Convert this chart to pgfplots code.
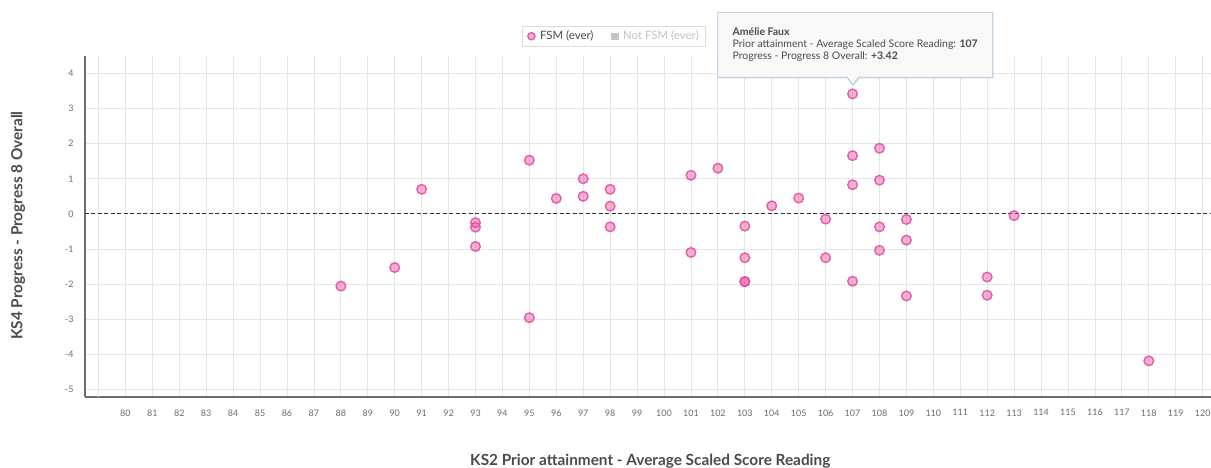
\documentclass[border=0pt]{standalone}
\usepackage{fontspec}
\setmainfont{Lato}
\usepackage{pgfplots}
\pgfplotsset{compat=1.18}
\usetikzlibrary{shapes.callouts,shadows}
\definecolor{pinkS}{HTML}{E4489C}
\definecolor{gridc}{HTML}{E6E6E6}
\definecolor{axc}{HTML}{6E6E6E}
\definecolor{tickc}{HTML}{6A6A6A}
\definecolor{titc}{HTML}{4A4A4A}
\definecolor{legb}{HTML}{DDDDDD}
\definecolor{legoff}{HTML}{C4C4C4}
\definecolor{tipb}{HTML}{A9C6E0}
\definecolor{tipf}{HTML}{F8F8F8}
\begin{document}
\begin{tikzpicture}
\path[use as bounding box] (-85bp,-71bp) rectangle (1126bp,397bp);
\begin{axis}[
  at={(0,0)}, anchor=south west,
  scale only axis, width=1126bp, height=341bp,
  xmin=78.5, xmax=120.31, ymin=-5.22, ymax=4.5,
  axis x line=bottom, axis y line=left,
  axis line style={-, color=axc, line width=1.6bp},
  xtick={80,...,120}, ytick={-5,...,4},
  extra x ticks={79}, extra x tick labels={},
  extra x tick style={grid=major},
  major tick length=0pt,
  grid=major,
  major grid style={color=gridc, line width=0.8bp},
  /pgf/number format/assume math mode=true,
  tick label style={font=\fontsize{9}{10}\selectfont, text=tickc},
  xticklabel style={yshift=-9bp},
  yticklabel style={xshift=-8bp},
  xlabel={KS2 Prior attainment - Average Scaled Score Reading},
  ylabel={KS4 Progress - Progress 8 Overall},
  xlabel style={font=\fontsize{15.4}{17}\selectfont\bfseries, text=titc, at={(axis description cs:0.502,-0.187)}, anchor=center},
  ylabel style={font=\fontsize{15.4}{17}\selectfont\bfseries, text=titc, at={(axis description cs:-0.0595,0.503)}, anchor=center},
  clip=false,
  legend style={at={(rel axis cs:0.470,1.058)}, anchor=center, legend columns=2,
    draw=legb, line width=0.8bp, font=\fontsize{11.5}{13}\selectfont, text=titc,
    inner xsep=5bp, inner ysep=3bp,
    /tikz/every odd column/.append style={column sep=3bp},
    /tikz/every even column/.append style={column sep=16bp}},
]
\addplot[forget plot, dashed, dash pattern=on 4bp off 2.5bp, line width=1.1bp, color=black!80] coordinates {(78.5,0) (120.31,0)};
\addplot[only marks, mark=*, mark size=4.8bp,
  mark options={draw=pinkS, fill=pinkS, fill opacity=0.42, draw opacity=0.85, line width=1.4bp},
  legend image post style={mark size=3.6bp}]
  coordinates {
(88,-2.06) (90,-1.53) (91,0.70)
(93,-0.25) (93,-0.38) (93,-0.93)
(95,1.53) (95,-2.96) (96,0.44)
(97,1.00) (97,0.50)
(98,0.70) (98,0.22) (98,-0.37)
(101,1.10) (101,-1.10) (102,1.30)
(103,-0.35) (103,-1.25) (103,-1.93) (103,-1.93)
(104,0.23) (105,0.45)
(106,-0.15) (106,-1.25)
(107,3.42) (107,1.66) (107,0.83) (107,-1.92)
(108,1.87) (108,0.96) (108,-0.37) (108,-1.04)
(109,-0.16) (109,-0.75) (109,-2.34)
(112,-1.80) (112,-2.32) (113,-0.05) (118,-4.19)
};
\addlegendentry{FSM (ever)}
\addlegendimage{only marks, mark=square*, mark size=3.3bp, color=legoff}
\addlegendentry{\textcolor{legoff}{Not FSM (ever)}}
\node[rectangle callout, callout absolute pointer={(axis cs:107,3.68)},
  callout pointer width=12bp,
  draw=tipb, fill=tipf, line width=0.9bp,
  minimum width=275bp, minimum height=65bp, inner sep=0pt,
  drop shadow={opacity=0.12, shadow xshift=1.5bp, shadow yshift=-1.5bp},
  font=\fontsize{10.5}{13}\selectfont, text=titc, align=left]
  at (axis cs:107.1,4.82)
  {\begin{tabular}{@{}l@{}}\textbf{Amélie Faux}\\[-1bp]
   Prior attainment - Average Scaled Score Reading: \textbf{107}\\[-1bp]
   Progress - Progress 8 Overall: \textbf{+3.42}\end{tabular}};
\end{axis}
\end{tikzpicture}
\end{document}
